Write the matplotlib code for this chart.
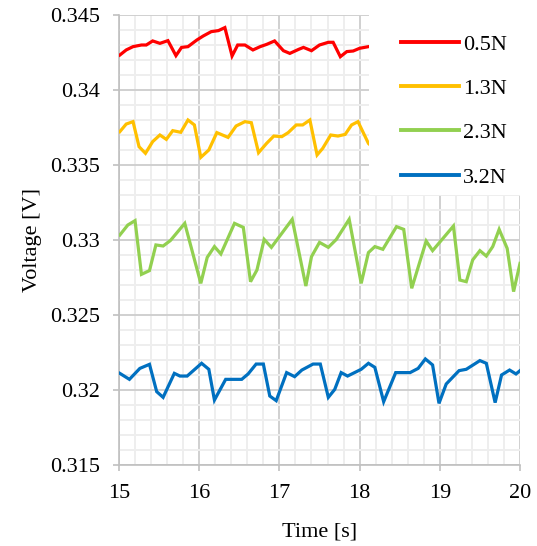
import matplotlib
matplotlib.use("Agg")
import matplotlib.pyplot as plt
from matplotlib.patches import Rectangle
from matplotlib.ticker import MultipleLocator

plt.rcParams['font.family'] = ['Liberation Serif', 'DejaVu Serif']

# values (time in s, voltage in V)
t_05 = [15.01, 15.09, 15.175, 15.28, 15.34, 15.42, 15.51, 15.61, 15.71, 15.78,
        15.86, 15.97, 16.05, 16.15, 16.24, 16.32, 16.41, 16.48, 16.57, 16.67,
        16.76, 16.84, 16.94, 17.05, 17.13, 17.24, 17.30, 17.40, 17.50, 17.61,
        17.67, 17.76, 17.84, 17.92, 18.00, 18.11, 18.20]
v_05 = [0.34233, 0.34267, 0.34289, 0.34300, 0.34300, 0.34327, 0.34311, 0.34329, 0.34229, 0.34284,
        0.34289, 0.34333, 0.34360, 0.34389, 0.34396, 0.34416, 0.34227, 0.34300, 0.34300, 0.34267,
        0.34289, 0.34304, 0.34327, 0.34262, 0.34244, 0.34271, 0.34284, 0.34262, 0.34300, 0.34318,
        0.34318, 0.34222, 0.34256, 0.34260, 0.34278, 0.34289, 0.34295]

t_13 = [15.01, 15.09, 15.175, 15.25, 15.33, 15.42, 15.51, 15.59, 15.67, 15.77,
        15.86, 15.94, 16.02, 16.12, 16.22, 16.36, 16.46, 16.57, 16.65, 16.74,
        16.84, 16.93, 17.03, 17.11, 17.21, 17.29, 17.38, 17.47, 17.54, 17.64,
        17.73, 17.82, 17.90, 17.98, 18.11, 18.20]
v_13 = [0.33722, 0.33773, 0.33789, 0.33622, 0.33578, 0.33656, 0.33700, 0.33671, 0.33729, 0.33718,
        0.33800, 0.33767, 0.33551, 0.33600, 0.33716, 0.33684, 0.33760, 0.33789, 0.33782, 0.33582,
        0.33644, 0.33693, 0.33689, 0.33716, 0.33767, 0.33767, 0.33800, 0.33567, 0.33611, 0.33700,
        0.33693, 0.33704, 0.33767, 0.33789, 0.33644, 0.33600]

t_23 = [15.01, 15.11, 15.20, 15.28, 15.38, 15.46, 15.55, 15.64, 15.82, 16.02,
        16.10, 16.19, 16.27, 16.44, 16.55, 16.64, 16.72, 16.81, 16.90, 17.16,
        17.33, 17.40, 17.50, 17.61, 17.71, 17.87, 18.02, 18.11, 18.19, 18.29,
        18.46, 18.55, 18.65, 18.83, 18.91, 19.17, 19.25, 19.33, 19.41, 19.50,
        19.58, 19.66, 19.74, 19.84, 19.92, 20.00]
v_23 = [0.33033, 0.33100, 0.33129, 0.32771, 0.32796, 0.32967, 0.32960, 0.32996, 0.33111, 0.32711,
        0.32884, 0.32956, 0.32907, 0.33111, 0.33084, 0.32722, 0.32800, 0.33004, 0.32951, 0.33138,
        0.32693, 0.32889, 0.32984, 0.32951, 0.33004, 0.33138, 0.32711, 0.32916, 0.32956, 0.32938,
        0.33089, 0.33071, 0.32678, 0.32993, 0.32929, 0.33093, 0.32733, 0.32722, 0.32867, 0.32929,
        0.32893, 0.32956, 0.33071, 0.32944, 0.32656, 0.32844]

t_32 = [15.01, 15.13, 15.26, 15.38, 15.47, 15.55, 15.69, 15.76, 15.85, 16.03,
        16.12, 16.19, 16.33, 16.53, 16.61, 16.71, 16.80, 16.88, 16.96, 17.09,
        17.19, 17.28, 17.42, 17.51, 17.61, 17.69, 17.77, 17.85, 18.02, 18.11,
        18.19, 18.30, 18.45, 18.63, 18.73, 18.82, 18.91, 18.99, 19.08, 19.24,
        19.33, 19.50, 19.58, 19.69, 19.77, 19.87, 19.95, 20.00]
v_32 = [0.32111, 0.32071, 0.32144, 0.32171, 0.31989, 0.31951, 0.32111, 0.32093, 0.32093, 0.32178,
        0.32138, 0.31933, 0.32071, 0.32071, 0.32107, 0.32173, 0.32173, 0.31960, 0.31929, 0.32116,
        0.32089, 0.32133, 0.32173, 0.32173, 0.31951, 0.32004, 0.32116, 0.32093, 0.32138, 0.32178,
        0.32151, 0.31922, 0.32116, 0.32116, 0.32144, 0.32207, 0.32167, 0.31911, 0.32040, 0.32129,
        0.32138, 0.32196, 0.32178, 0.31916, 0.32100, 0.32133, 0.32107, 0.32129]

labels = ['0.5N', '1.3N', '2.3N', '3.2N']
colors = ['#ff0000', '#ffc000', '#92d050', '#0070c0']

fig = plt.figure(figsize=(5.37, 5.46), dpi=100)
ax = fig.add_axes([119 / 537, 1 - 465 / 546, 401 / 537, 450 / 546])

for t, v, lab, c in zip([t_05, t_13, t_23, t_32], [v_05, v_13, v_23, v_32], labels, colors):
    ax.plot(t, v, color=c, lw=2.3, label=lab, solid_joinstyle='miter', zorder=3)

ax.set_xlim(15, 20)
ax.set_ylim(0.315, 0.345)
ax.xaxis.set_major_locator(MultipleLocator(1))
ax.xaxis.set_minor_locator(MultipleLocator(0.2))
ax.yaxis.set_major_locator(MultipleLocator(0.005))
ax.yaxis.set_minor_locator(MultipleLocator(0.001))
ax.set_yticks([0.315, 0.32, 0.325, 0.33, 0.335, 0.34, 0.345])
ax.set_yticklabels(['0.315', '0.32', '0.325', '0.33', '0.335', '0.34', '0.345'])
ax.grid(which='major', color='#d0d0d0', lw=1.4, zorder=0)
ax.grid(which='minor', color='#eeeeee', lw=1.4, zorder=0)
ax.set_axisbelow(True)

for s in ['top', 'right']:
    ax.spines[s].set_visible(False)
for s in ['left', 'bottom']:
    ax.spines[s].set_color('#c0c0c0')
    ax.spines[s].set_linewidth(1.2)
ax.tick_params(which='major', length=4.5, width=1.2, color='#c0c0c0',
               labelsize=16, pad=9)
ax.tick_params(which='minor', length=0)

ax.set_xlabel('Time [s]', fontsize=16, labelpad=14)
ax.set_ylabel('Voltage [V]', fontsize=16, labelpad=6)

# white box behind the legend (covers the plot, as in the original)
ax.add_patch(Rectangle((369 / 537, 1 - 195 / 546), 1, 1, transform=fig.transFigure,
                       facecolor='white', edgecolor='none', clip_on=False, zorder=4))
leg = ax.legend(loc='upper left', bbox_to_anchor=(401 / 537, 1 - 34 / 546),
                bbox_transform=fig.transFigure, frameon=False, fontsize=16,
                handlelength=2.6, handletextpad=0.2, labelspacing=1.07,
                borderpad=0, borderaxespad=0)
leg.set_zorder(5)
for line in leg.get_lines():
    line.set_linewidth(2.8)

fig.savefig('out.png', dpi=100)
